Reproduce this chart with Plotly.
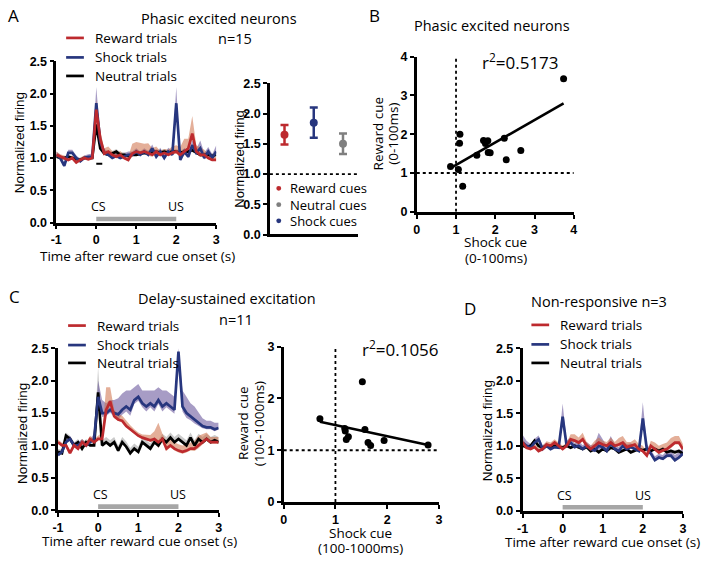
import plotly.graph_objects as go
import numpy as np

W, H = 702, 563

# ---------------- DATA ----------------
t = [round(-1 + 0.1 * i, 1) for i in range(41)]

# Panel A: phasic excited (n=15)
A_reward = [1.05, 1.02, 1.0, 0.97, 1.0, 0.93, 0.97, 1.0, 0.98, 1.0, 1.75, 1.3, 1.07, 1.1, 1.05, 1.02, 1.05, 1.0, 0.97, 1.07,
            1.1, 1.08, 1.1, 1.08, 1.05, 1.1, 1.05, 1.08, 1.05, 1.08, 1.1, 1.05, 1.1, 1.15, 1.38, 1.1, 1.05, 1.05, 1.0, 0.97, 0.97]
A_reward_sem = [0.05, 0.04, 0.04, 0.04, 0.04, 0.04, 0.04, 0.04, 0.04, 0.05, 0.15, 0.12, 0.08, 0.08, 0.06, 0.05, 0.06, 0.05, 0.05, 0.15,
                0.15, 0.15, 0.12, 0.15, 0.1, 0.08, 0.06, 0.06, 0.08, 0.1, 0.1, 0.12, 0.2, 0.15, 0.27, 0.1, 0.12, 0.08, 0.06, 0.05, 0.05]
A_shock = [1.05, 1.0, 0.88, 1.08, 1.08, 1.0, 0.95, 1.0, 1.02, 1.02, 1.85, 1.25, 1.08, 1.05, 1.0, 1.03, 1.0, 1.02, 1.05, 1.05,
           1.1, 1.05, 1.1, 1.05, 1.15, 1.02, 1.1, 1.0, 1.1, 1.05, 1.85, 0.97, 1.1, 1.02, 1.2, 1.08, 1.15, 1.0, 1.1, 1.0, 1.1]
A_shock_sem = [0.05, 0.05, 0.05, 0.05, 0.05, 0.04, 0.04, 0.04, 0.04, 0.05, 0.25, 0.1, 0.06, 0.05, 0.04, 0.05, 0.05, 0.05, 0.05, 0.05,
               0.05, 0.05, 0.05, 0.06, 0.06, 0.05, 0.06, 0.05, 0.06, 0.06, 0.25, 0.05, 0.06, 0.06, 0.08, 0.06, 0.12, 0.08, 0.07, 0.06, 0.1]
A_neutral = [1.02, 1.0, 1.0, 1.02, 1.0, 0.98, 0.97, 1.0, 1.0, 1.0, 1.52, 1.15, 1.07, 1.05, 1.07, 1.1, 1.05, 1.05, 1.03, 1.05,
             1.05, 1.07, 1.08, 1.07, 1.08, 1.1, 1.08, 1.1, 1.08, 1.1, 1.1, 1.08, 1.1, 1.1, 1.12, 1.08, 1.05, 1.05, 1.05, 1.03, 1.05]
A_neutral_sem = [0.03] * 10 + [0.1] + [0.04] * 30

# Panel A inset: mean response to cues
cue_names = ["Reward cues", "Neutral cues", "Shock cues"]
cue_pos = [0.5, 2.5, 1.5]
cue_mean = [1.65, 1.5, 1.85]
cue_err = [0.16, 0.17, 0.25]

# Panel B: phasic excited neurons scatter (0-100 ms)
B_shock = [0.86, 1.06, 1.10, 1.09, 1.17, 1.53, 1.70, 1.75, 1.81, 1.82, 1.87, 2.23, 2.28, 2.65, 3.74]
B_reward = [1.17, 1.09, 2.00, 1.77, 0.66, 1.46, 1.84, 1.76, 1.83, 1.53, 1.52, 1.90, 1.34, 1.58, 3.43]
B_r2 = "0.5173"

# Panel C: delay-sustained excitation (n=11)
C_reward = [1.05, 1.0, 1.0, 0.88, 1.0, 0.95, 1.05, 1.0, 1.1, 1.05, 1.1, 1.1, 1.55, 1.68, 1.45, 1.4, 1.38, 1.3, 1.25, 1.2,
            1.15, 1.12, 1.1, 1.08, 1.1, 1.05, 1.1, 0.95, 1.0, 0.95, 0.92, 0.9, 0.92, 0.95, 0.95, 1.0, 1.05, 1.1, 1.05, 1.05, 1.05]
C_reward_sem = [0.04, 0.04, 0.04, 0.04, 0.04, 0.04, 0.05, 0.05, 0.05, 0.05, 0.05, 0.1, 0.35, 0.22, 0.1, 0.08, 0.08, 0.08, 0.06, 0.05,
                0.05, 0.05, 0.06, 0.08, 0.12, 0.3, 0.08, 0.12, 0.1, 0.1, 0.1, 0.1, 0.1, 0.1, 0.12, 0.15, 0.12, 0.1, 0.08, 0.08, 0.08]
C_shock = [0.85, 0.9, 1.05, 1.1, 1.0, 1.0, 1.05, 1.0, 1.05, 1.1, 1.75, 1.5, 1.5, 1.55, 1.5, 1.48, 1.55, 1.6, 1.55, 1.7,
           1.75, 1.65, 1.6, 1.65, 1.6, 1.7, 1.6, 1.65, 1.6, 1.55, 2.45, 1.6, 1.5, 1.45, 1.4, 1.35, 1.3, 1.28, 1.28, 1.25, 1.27]
C_shock_sem = [0.05, 0.05, 0.05, 0.05, 0.05, 0.05, 0.05, 0.05, 0.05, 0.08, 0.25, 0.2, 0.15, 0.15, 0.2, 0.25, 0.25, 0.25, 0.3, 0.2,
               0.2, 0.2, 0.25, 0.2, 0.25, 0.2, 0.25, 0.2, 0.2, 0.2, 0.05, 0.25, 0.25, 0.2, 0.2, 0.15, 0.12, 0.1, 0.1, 0.1, 0.08]
C_neutral = [0.9, 0.88, 1.15, 1.1, 1.0, 1.05, 0.95, 1.05, 1.0, 1.0, 1.82, 1.0, 1.05, 1.0, 1.05, 0.92, 1.05, 0.98, 0.88, 0.95,
             0.9, 1.05, 1.0, 0.95, 1.05, 1.0, 1.1, 1.05, 1.12, 1.05, 1.1, 1.05, 1.0, 1.12, 1.0, 1.1, 1.05, 1.1, 1.05, 1.08, 1.05]
C_neutral_sem = [0.05] * 10 + [0.4] + [0.08] * 30

# Panel C scatter (100-1000 ms)
C_sc_shock = [0.70, 1.18, 1.19, 1.21, 1.25, 1.52, 1.57, 1.63, 1.68, 1.94, 2.79]
C_sc_reward = [1.61, 1.42, 1.37, 1.21, 1.26, 2.32, 1.40, 1.15, 1.09, 1.19, 1.10]
C_r2 = "0.1056"

# Panel D: non-responsive (n=3)
D_reward = [1.05, 0.97, 0.95, 0.98, 0.92, 0.95, 1.02, 1.0, 1.05, 1.0, 0.95, 1.0, 1.1, 1.08, 1.05, 1.1, 1.0, 0.95, 1.0, 1.05,
            1.02, 1.0, 1.05, 1.0, 1.02, 1.05, 0.98, 1.0, 1.02, 0.95, 0.92, 0.85, 1.0, 0.95, 0.9, 0.93, 0.95, 1.0, 1.05, 1.05, 0.95]
D_reward_sem = [0.05] * 12 + [0.08, 0.1, 0.08, 0.1, 0.06, 0.05, 0.08, 0.08, 0.06, 0.06, 0.08, 0.06, 0.1, 0.1, 0.08, 0.06, 0.08, 0.08,
                0.08, 0.06, 0.08, 0.1, 0.1, 0.1, 0.1, 0.12, 0.1, 0.1, 0.08]
D_shock = [1.05, 1.0, 0.97, 1.05, 1.1, 0.95, 1.0, 0.95, 0.98, 0.97, 1.45, 1.0, 1.05, 0.98, 1.0, 0.95, 1.0, 0.95, 0.93, 1.0,
           0.98, 0.92, 1.05, 0.95, 0.92, 1.0, 0.95, 0.98, 0.95, 0.92, 1.42, 0.95, 0.88, 0.78, 0.82, 0.8, 0.85, 0.85, 0.78, 0.82, 0.88]
D_shock_sem = [0.12, 0.08, 0.06, 0.06, 0.06, 0.06, 0.05, 0.05, 0.05, 0.06, 0.2, 0.08, 0.08, 0.06, 0.08, 0.06, 0.06, 0.06, 0.1, 0.2,
               0.12, 0.08, 0.1, 0.08, 0.06, 0.08, 0.08, 0.06, 0.06, 0.06, 0.25, 0.08, 0.06, 0.06, 0.06, 0.06, 0.08, 0.08, 0.08, 0.08, 0.1]
D_neutral = [1.0, 0.98, 1.0, 1.08, 1.0, 0.97, 1.0, 0.97, 1.0, 0.98, 0.97, 1.0, 0.97, 1.0, 0.97, 0.95, 0.98, 0.92, 0.95, 0.9,
             0.95, 0.92, 0.97, 0.95, 0.9, 0.92, 0.95, 0.9, 0.93, 0.95, 0.93, 0.95, 0.92, 0.95, 0.92, 0.95, 0.9, 0.92, 0.9, 0.92, 0.88]
D_neutral_sem = [0.03] * 41

# ---------------- STYLE ----------------
RED = "#bd2a2e"
BLUE = "#27367e"
BLACK = "#000000"
GRAY = "#7f7f7f"
RED_BAND = "rgba(205,110,70,0.55)"
BLUE_BAND = "rgba(95,75,150,0.55)"
BLACK_BAND = "rgba(150,150,150,0.5)"
TXT = "Open Sans"
ARIAL = "Liberation Sans"
TICKF = dict(family=ARIAL, size=12.5, color="black", weight="bold")


def px(x):
    return x / W


def py(y):
    return 1 - y / H


fig = go.Figure()

# axis domains in pixels: (x0, x1, ytop, ybottom)
dom = {
    1: (51, 213.3, 55.7, 221),
    2: (267.7, 356.7, 78.3, 233.3),
    3: (416.7, 576, 51, 210),
    4: (52.7, 215.7, 350, 516),
    5: (281.7, 439.2, 348.3, 507.7),
    6: (524, 686.7, 350, 516.7),
}


def axname(i, a):
    return a + ("axis" if i == 1 else "axis%d" % i)


def ref(i, a):
    return a + ("" if i == 1 else str(i))


for i, (x0, x1, yt, yb) in dom.items():
    common = dict(showline=True, linecolor="black", linewidth=2.5, ticks="outside", ticklen=4,
                  tickwidth=2, tickcolor="black", tickfont=TICKF, showgrid=False, zeroline=False,
                  layer="above traces")
    fig.layout[axname(i, "x")] = dict(domain=[px(x0), px(x1)], anchor=ref(i, "y"), **common)
    fig.layout[axname(i, "y")] = dict(domain=[py(yb), py(yt)], anchor=ref(i, "x"), **common)

for i in (1, 4, 6):
    fig.layout[axname(i, "x")].update(range=[-1, 3], tickvals=[-1, 0, 1, 2, 3], ticktext=["-1", "0", "1", "2", "3"])
    fig.layout[axname(i, "y")].update(range=[0, 2.5], tickvals=[0, 0.5, 1, 1.5, 2, 2.5],
                                       ticktext=["0.0", "0.5", "1.0", "1.5", "2.0", "2.5"])
fig.layout.xaxis2.update(range=[0, 3], showticklabels=False, ticks="")
fig.layout.yaxis2.update(range=[0, 2.5], tickvals=[0, 0.5, 1, 1.5, 2, 2.5],
                         ticktext=["0.0", "0.5", "1.0", "1.5", "2.0", "2.5"])
fig.layout.xaxis3.update(range=[0, 4], tickvals=[0, 1, 2, 3, 4])
fig.layout.yaxis3.update(range=[0, 4], tickvals=[0, 1, 2, 3, 4])
fig.layout.xaxis5.update(range=[0, 3], tickvals=[0, 1, 2, 3])
fig.layout.yaxis5.update(range=[0, 3], tickvals=[0, 1, 2, 3])


def add_series(i, mean, sem, band):
    upper = [m + s for m, s in zip(mean, sem)]
    lower = [m - 0.3 * s for m, s in zip(mean, sem)]
    fig.add_trace(go.Scatter(x=t, y=upper, mode="lines", line=dict(width=0), hoverinfo="skip",
                             showlegend=False, xaxis=ref(i, "x"), yaxis=ref(i, "y")))
    fig.add_trace(go.Scatter(x=t, y=lower, mode="lines", line=dict(width=0), fill="tonexty",
                             fillcolor=band, hoverinfo="skip", showlegend=False,
                             xaxis=ref(i, "x"), yaxis=ref(i, "y")))


def add_line(i, mean, color):
    fig.add_trace(go.Scatter(x=t, y=mean, mode="lines", line=dict(color=color, width=2.7),
                             showlegend=False, xaxis=ref(i, "x"), yaxis=ref(i, "y")))


panels = {
    1: (A_reward, A_reward_sem, A_shock, A_shock_sem, A_neutral, A_neutral_sem),
    4: (C_reward, C_reward_sem, C_shock, C_shock_sem, C_neutral, C_neutral_sem),
    6: (D_reward, D_reward_sem, D_shock, D_shock_sem, D_neutral, D_neutral_sem),
}
for i, (r, rs, s, ss, n, ns) in panels.items():
    add_series(i, n, ns, BLACK_BAND)
    add_series(i, s, ss, BLUE_BAND)
    add_series(i, r, rs, RED_BAND)
    add_line(i, n, BLACK)
    add_line(i, s, BLUE)
    add_line(i, r, RED)
    # CS-US bar
    fig.add_shape(type="rect", xref=ref(i, "x"), yref=ref(i, "y"), x0=0, x1=2, y0=0.02, y1=0.09,
                  fillcolor="#a6a6a6", line=dict(width=0))
    fig.add_annotation(x=0.05, y=0.08, xref=ref(i, "x"), yref=ref(i, "y"), text="CS", showarrow=False,
                       yanchor="bottom", font=dict(family=TXT, size=12.5, color="black"))
    fig.add_annotation(x=2.0, y=0.08, xref=ref(i, "x"), yref=ref(i, "y"), text="US", showarrow=False,
                       yanchor="bottom", font=dict(family=TXT, size=12.5, color="black"))

# significance dash in A
fig.add_shape(type="line", xref="x", yref="y", x0=0.0, x1=0.15, y0=0.91, y1=0.91,
              line=dict(color="black", width=2))

# Panel A inset
fig.add_shape(type="line", xref="x2", yref="y2", x0=0, x1=3, y0=1, y1=1,
              line=dict(color="black", width=1.8, dash="dot"))
cue_colors = [RED, GRAY, BLUE]
for name, p, m, e, c in zip(cue_names, cue_pos, cue_mean, cue_err, cue_colors):
    fig.add_trace(go.Scatter(x=[p], y=[m], mode="markers", marker=dict(color=c, size=8),
                             error_y=dict(type="data", array=[e], color=c, thickness=2.5, width=4),
                             showlegend=False, xaxis="x2", yaxis="y2"))


# Scatter panels
def scatter_panel(i, xs, ys, lim, r2, r2pos):
    xr, yr = ref(i, "x"), ref(i, "y")
    fig.add_shape(type="line", xref=xr, yref=yr, x0=1, x1=1, y0=0, y1=lim,
                  line=dict(color="black", width=1.8, dash="dot"))
    fig.add_shape(type="line", xref=xr, yref=yr, x0=0, x1=lim, y0=1, y1=1,
                  line=dict(color="black", width=1.8, dash="dot"))
    xa = np.array(xs)
    ya = np.array(ys)
    k, b = np.polyfit(xa, ya, 1)
    lx = [float(xa.min()), float(xa.max())]
    fig.add_trace(go.Scatter(x=lx, y=[k * v + b for v in lx], mode="lines",
                             line=dict(color="black", width=2.6), showlegend=False, xaxis=xr, yaxis=yr))
    fig.add_trace(go.Scatter(x=xs, y=ys, mode="markers", marker=dict(color="black", size=7),
                             showlegend=False, xaxis=xr, yaxis=yr))
    fig.add_annotation(x=px(r2pos[0]), y=py(r2pos[1]), xref="paper", yref="paper",
                       text="r<sup>2</sup>=" + r2, showarrow=False, xanchor="left", yanchor="middle",
                       font=dict(family=TXT, size=17, color="black"))


scatter_panel(3, B_shock, B_reward, 4, B_r2, (481, 56))
scatter_panel(5, C_sc_shock, C_sc_reward, 3, C_r2, (359, 350))


# ---------------- TEXT ----------------
def txt(x, y, s, size=13, angle=0, xanchor="center", yanchor="middle", family=TXT):
    fig.add_annotation(x=px(x), y=py(y), xref="paper", yref="paper", text=s, showarrow=False,
                       textangle=angle, xanchor=xanchor, yanchor=yanchor,
                       font=dict(family=family, size=size, color="black"))


# panel letters
txt(8, 9, "A", 17)
txt(374, 9, "B", 17)
txt(9, 297, "C", 17)
txt(471, 309, "D", 17)

# titles
txt(216, 12, "Phasic excited neurons", 14.5)
txt(232, 32, "n=15", 14.5)
txt(493, 19, "Phasic excited neurons", 14.5)
txt(224, 299, "Delay-sustained excitation", 14.5)
txt(233, 320, "n=11", 14.5)
txt(602, 302, "Non-responsive n=3", 14.5)

# axis titles
txt(14, 139, "Normalized firing", 13.5, -90, family=ARIAL)
txt(133, 255, "Time after reward cue onset (s)", 13.5)
txt(236, 156, "Normalized firing", 13, -90, family=ARIAL)
txt(377, 130, "Reward cue", 13.5, -90)
txt(392.5, 130, "(0-100ms)", 13.5, -90)
txt(497, 241, "Shock cue", 13.5)
txt(497, 257, "(0-100ms)", 13.5)
txt(16, 437, "Normalized firing", 13.5, -90, family=ARIAL)
txt(135, 548, "Time after reward cue onset (s)", 13.5)
txt(241, 427, "Reward cue", 13.5, -90)
txt(257.5, 427, "(100-1000ms)", 13.5, -90)
txt(360, 539, "Shock cue", 13.5)
txt(360, 555, "(100-1000ms)", 13.5)
txt(488, 435, "Normalized firing", 13.5, -90, family=ARIAL)
txt(605, 549, "Time after reward cue onset (s)", 13.5)


# legends for line panels
def legend(xl, ys):
    for (label, col), yy in zip([("Reward trials", RED), ("Shock trials", BLUE), ("Neutral trials", BLACK)], ys):
        fig.add_shape(type="line", xref="paper", yref="paper", x0=px(xl), x1=px(xl + 18), y0=py(yy), y1=py(yy),
                      line=dict(color=col, width=2.7))
        txt(xl + 27, yy, label, 13.5, xanchor="left")


legend(61, [31.7, 51.7, 70.7])
legend(63, [326.7, 346.7, 365])
legend(533, [326, 346, 365])

# inset legend
for name, c, yy in zip(cue_names, cue_colors, [186, 202.7, 219.3]):
    fig.add_shape(type="circle", xref="paper", yref="paper", x0=px(274.2), x1=px(279.2),
                  y0=py(yy + 2.5), y1=py(yy - 2.5), fillcolor=c, line=dict(width=0))
    txt(286, yy, name, 13, xanchor="left")

fig.update_layout(width=W, height=H, margin=dict(l=0, r=0, t=0, b=0), plot_bgcolor="white",
                  paper_bgcolor="white", showlegend=False)
fig.write_html(
    "out.html",
    config={"displayModeBar": False},
    post_script=(
        "document.documentElement.style.margin='0px';document.documentElement.style.padding='0px';"
        "document.documentElement.style.overflow='hidden';"
        "document.body.style.margin='0px';document.body.style.padding='0px';"
        "document.body.style.overflow='hidden';"
    ),
)
